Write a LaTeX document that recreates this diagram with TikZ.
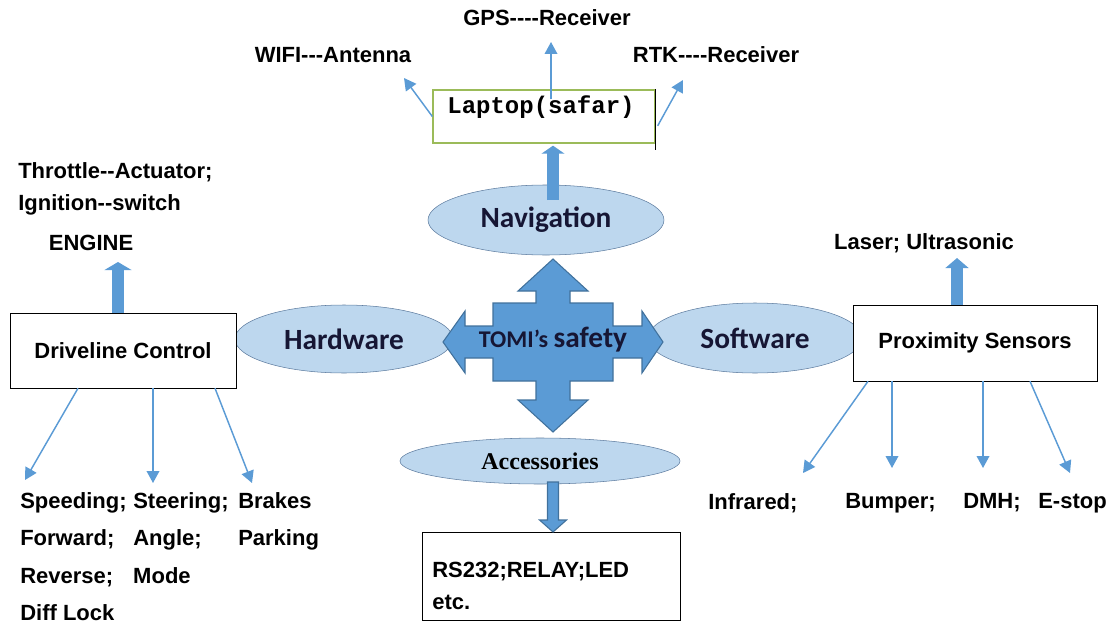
\documentclass[tikz,border=0pt]{standalone}
\usepackage{fontspec}
\setmainfont{Liberation Sans}
\newfontfamily\arial{Liberation Sans}
\newfontfamily\calib{Carlito}
\newfontfamily\timesf{Liberation Serif}
\newfontfamily\lapmono{Liberation Mono}
\usetikzlibrary{shapes.geometric,arrows.meta}
\definecolor{ellfill}{RGB}{189,215,238}
\definecolor{elldraw}{RGB}{95,125,160}
\definecolor{crossfill}{RGB}{91,155,213}
\definecolor{crossdraw}{RGB}{65,113,156}
\definecolor{linkblue}{RGB}{91,155,213}
\definecolor{lapgreen}{RGB}{155,187,89}
\definecolor{labnavy}{RGB}{22,22,52}
\newcommand\hy{-\kern0pt}

\begin{document}
\begin{tikzpicture}[x=0.75pt,y=-0.75pt,
	txt/.style={inner sep=0pt, font=\arial\bfseries\fontsize{16.5}{20}\selectfont},
	ell/.style={ellipse, draw=elldraw, fill=ellfill, inner sep=0pt, text=labnavy, font=\calib\bfseries\fontsize{22}{26}\selectfont},
	box/.style={draw, fill=white, inner sep=0pt},
	link/.style={draw=linkblue, line width=1.1pt, -{Triangle[length=9pt,width=9.5pt]}},
	fat/.style={draw=crossfill, line width=9pt, -{Triangle[length=6pt,width=17pt]}}]
	\useasboundingbox (0,0) rectangle (1119,624);

	\node[ell, minimum width=177pt, minimum height=52.5pt] (nav) at (546,220) {Navigation};
	\node[ell, minimum width=163.5pt, minimum height=51pt] (hw) at (344,339) {Hardware};
	\node[ell, minimum width=160.5pt, minimum height=52.5pt] (sw) at (755,338) {Software};
	\node[ell, minimum width=210pt, minimum height=34.5pt, text=black, font=\timesf\bfseries\fontsize{18}{20}\selectfont] (acc) at (540,461) {Accessories};

	\draw[fill=crossfill, draw=crossdraw, line width=0.8pt, shift={(553,342)}]
		(0,-83) -- (35,-51) -- (17,-51) -- (17,-39) -- (60,-39) -- (60,-16) -- (89,-16) -- (89,-31)
		-- (110,0) -- (89,31) -- (89,16) -- (60,16) -- (60,39) -- (17,39) -- (17,58) -- (35,58)
		-- (0,90) -- (-35,58) -- (-17,58) -- (-17,39) -- (-60,39) -- (-60,16) -- (-88,16) -- (-88,31)
		-- (-110,0) -- (-88,-31) -- (-88,-16) -- (-60,-16) -- (-60,-39) -- (-17,-39) -- (-17,-51) -- (-35,-51) -- cycle;
	\node[inner sep=0pt, text=labnavy, font=\calib\bfseries] (tomi) at (553,340) {\fontsize{18}{22}\selectfont TOMI’s \fontsize{22}{26}\selectfont safety};

	\node[box, draw=lapgreen, line width=1pt, minimum width=166.5pt, minimum height=39.75pt] (lap) at (544,116.5) {};
	\draw (lap.north east) -- ([yshift=-5pt]lap.south east);
	\node[inner sep=0pt, font=\lapmono\bfseries\fontsize{18}{20}\selectfont] (laptxt) at (541,107) {Laptop(safar)};
	\node[box, txt, minimum width=169.5pt, minimum height=56.25pt] (drv) at (123,350.5) {Driveline Control};
	\node[box, txt, minimum width=183pt, minimum height=57pt] (prox) at (975,343) {Proximity Sensors};
	\node[box, minimum width=193.5pt, minimum height=66pt] (rs) at (551,576) {};
	\node[txt, anchor=west, align=left, font=\arial\bfseries\fontsize{16.5}{24}\selectfont] (rstxt) at (432,586) {RS232;RELAY;LED\\etc.};

	\node[txt] (gps) at (547,18) {GPS\hy\hy\hy\hy Receiver};
	\node[txt] (wifi) at (333,55) {WIFI\hy\hy\hy Antenna};
	\node[txt] (rtk) at (716,55) {RTK\hy\hy\hy\hy Receiver};
	\node[txt, anchor=west] (throttle) at (18,172) {Throttle\hy\hy Actuator;};
	\node[txt, anchor=west] (ignition) at (18,205) {Ignition\hy\hy switch};
	\node[txt] (engine) at (91,243) {ENGINE};
	\node[txt] (laser) at (924,243) {Laser; Ultrasonic};

	\node[txt, anchor=west] (row1) at (20,503) {\makebox[84.75pt][l]{Speeding;}\makebox[78.75pt][l]{Steering;}Brakes};
	\node[txt, anchor=west] (row2) at (20,540) {\makebox[84.75pt][l]{Forward;}\makebox[78.75pt][l]{Angle;}Parking};
	\node[txt, anchor=west] (row3) at (20,577) {\makebox[84.75pt][l]{Reverse;}Mode};
	\node[txt, anchor=west] (row4) at (20,613) {Diff Lock};

	\node[txt, anchor=west] (infra) at (708,503) {Infrared;};
	\node[txt, anchor=west] (bump) at (845,503) {Bumper;};
	\node[txt, anchor=west] (dmh) at (963,503) {DMH;};
	\node[txt, anchor=west] (estop) at (1038,503) {E-stop};

	\coordinate (wifitip) at (404,78);
	\coordinate (gpstip) at (551,42);
	\coordinate (rtktip) at (683,80);
	\draw[link] (lap.west) -- (wifitip);
	\draw[link] ([xshift=5.25pt,yshift=-7.5pt]lap.north) -- (gpstip);
	\draw[link] ([xshift=1.5pt,yshift=-7pt]lap.east) -- (rtktip);

	\coordinate (spdtip) at (25,480);
	\coordinate (strtip) at (153,483);
	\coordinate (brktip) at (252,483);
	\draw[link] ([xshift=-33.75pt]drv.south) -- (spdtip);
	\draw[link] ([xshift=22.5pt]drv.south) -- (strtip);
	\draw[link] ([xshift=69pt]drv.south) -- (brktip);

	\coordinate (inftip) at (803,473);
	\coordinate (bmptip) at (892,468);
	\coordinate (dmhtip) at (983,468);
	\coordinate (esttip) at (1070,473);
	\draw[link] ([xshift=-80.25pt]prox.south) -- (inftip);
	\draw[link] ([xshift=-62.25pt]prox.south) -- (bmptip);
	\draw[link] ([xshift=6pt]prox.south) -- (dmhtip);
	\draw[link] ([xshift=41.25pt]prox.south) -- (esttip);

	\coordinate (engtip) at (118,262);
	\coordinate (lastip) at (957,258);
	\draw[fat] ([xshift=5.25pt,yshift=15pt]nav.center) -- ([xshift=6.75pt,yshift=-1.5pt]lap.south);
	\draw[fat, -{Triangle[length=6pt,width=20pt]}] ([xshift=-3.75pt]drv.north) -- (engtip);
	\draw[fat, -{Triangle[length=7.5pt,width=17pt]}] ([xshift=-13.5pt]prox.north) -- (lastip);

	\coordinate (accfoot) at (553,482);
	\draw[fill=crossfill, draw=crossdraw, line width=0.8pt, shift={(accfoot)}]
		(-5.5,0) -- (5.5,0) -- (5.5,38) -- (13.5,38) -- (0,50) -- (-13.5,38) -- (-5.5,38) -- cycle;
\end{tikzpicture}
\end{document}
